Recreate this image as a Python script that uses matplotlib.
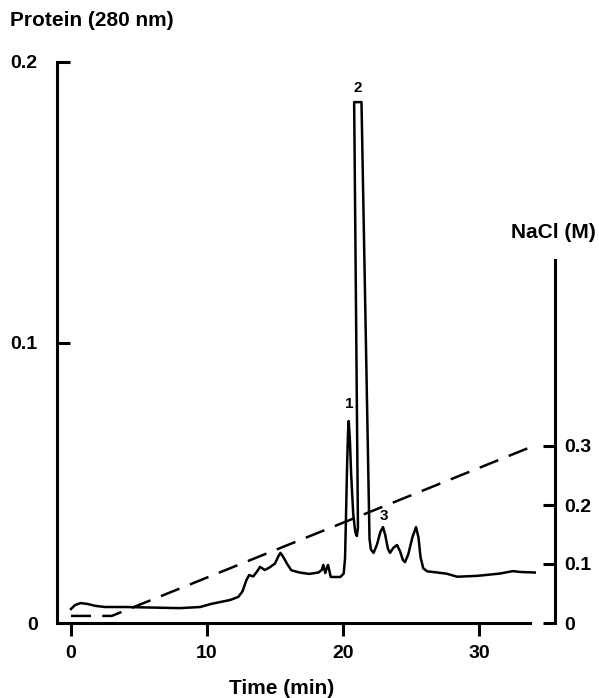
import matplotlib
matplotlib.use("Agg")
import matplotlib.pyplot as plt

plt.rcParams['font.family'] = ['Liberation Sans', 'DejaVu Sans']
plt.rcParams['font.weight'] = 'bold'

# Protein absorbance trace (time in min, A280)
time_min = [0.0, 0.3, 0.7, 1.2, 1.8, 2.5, 4.0, 6.0, 8.0, 9.5, 10.3, 11.0, 11.7, 12.3,
            12.6, 12.9, 13.1, 13.4, 13.7, 13.9, 14.25, 14.6, 15.0, 15.25, 15.4, 15.6,
            15.9, 16.2, 16.8, 17.5, 18.2, 18.45, 18.55, 18.7, 18.8, 18.9, 19.1, 19.8,
            20.05, 20.15, 20.22, 20.3, 20.37, 20.42, 20.5, 20.6, 20.75, 20.9, 21.02,
            21.1, 20.82, 21.36, 21.95, 22.05, 22.25, 22.5, 22.75, 22.94, 23.1, 23.3,
            23.46, 23.7, 23.97, 24.2, 24.4, 24.56, 24.8, 25.1, 25.37, 25.55, 25.7,
            25.9, 26.2, 26.6, 27.6, 28.4, 29.85, 31.5, 32.5, 33.0, 34.1]
protein = [0.0050, 0.0064, 0.0071, 0.0068, 0.0061, 0.0057, 0.0057, 0.0055, 0.0053,
           0.0057, 0.0068, 0.0075, 0.0082, 0.0093, 0.0112, 0.0153, 0.0171, 0.0166,
           0.0185, 0.0200, 0.0189, 0.0198, 0.0212, 0.0238, 0.0250, 0.0236, 0.0210,
           0.0188, 0.0180, 0.0175, 0.0180, 0.0190, 0.0207, 0.0178, 0.0195, 0.0207,
           0.0164, 0.0164, 0.0176, 0.0230, 0.0380, 0.0560, 0.0680, 0.0720, 0.0660,
           0.0530, 0.0390, 0.0325, 0.0310, 0.0340, 0.1857, 0.1857, 0.0300, 0.0262,
           0.0250, 0.0280, 0.0325, 0.0342, 0.0315, 0.0265, 0.0250, 0.0268, 0.0278,
           0.0255, 0.0225, 0.0217, 0.0245, 0.0305, 0.0342, 0.0305, 0.0235, 0.0195,
           0.0184, 0.0182, 0.0176, 0.0165, 0.0168, 0.0176, 0.0185, 0.0182, 0.0180]

# NaCl gradient (time in min, M)
grad_time = [0.0, 3.0, 34.0]
nacl = [0.012, 0.012, 0.30]

peak_labels = ['1', '2', '3']
peak_time = [20.44, 21.1, 23.0]
peak_y = [0.0779, 0.1907, 0.0382]

x_ticks = [0, 10, 20, 30]
left_ticks = [0, 0.1, 0.2]
left_ticklabels = ['0', '0.1', '0.2']
right_ticks = [0, 0.1, 0.2, 0.3]
right_ticklabels = ['0', '0.1', '0.2', '0.3']

W, H = 599, 698
fig = plt.figure(figsize=(W / 100, H / 100), dpi=100)
x0, x1 = 57, 555
y_top, y_bot = 62, 623
ax = fig.add_axes([x0 / W, (H - y_bot) / H, (x1 - x0) / W, (y_bot - y_top) / H])

px_per_min = 13.6
t0_px = 71
ax.set_xlim((x0 - t0_px) / px_per_min, (x1 - t0_px) / px_per_min)
ax.set_ylim(0, 0.2)

ax.plot(time_min, protein, color='black', lw=1.8, solid_joinstyle='round')

for s in ['top', 'right']:
    ax.spines[s].set_visible(False)
ax.spines['left'].set_linewidth(2.2)
ax.spines['bottom'].set_linewidth(2.2)
ax.spines['left'].set_bounds(0, 0.2)
ax.spines['bottom'].set_bounds(0, 33.75)
ax.set_xticks(x_ticks)
ax.set_xticklabels([str(v) for v in x_ticks])
ax.set_yticks(left_ticks)
ax.set_yticklabels(left_ticklabels)
ax.tick_params(axis='y', direction='in', length=9, width=2.2, pad=14, labelsize=14)
ax.tick_params(axis='x', direction='out', length=9, width=2.2, pad=7, labelsize=14)

for lab, t, v in zip(peak_labels, peak_time, peak_y):
    ax.text(t, v, lab, ha='center', va='center', fontsize=11, fontweight='bold')

ax2 = ax.twinx()
ax2.set_ylim(0, (y_bot - y_top) / 590.0)
ax2.plot(grad_time, nacl, color='black', lw=1.8, dashes=(8, 4.5))
for s in ['top', 'left', 'bottom']:
    ax2.spines[s].set_visible(False)
ax2.spines['right'].set_linewidth(2.2)
ax2.spines['right'].set_bounds(0, 0.615)
ax2.set_yticks(right_ticks)
ax2.set_yticklabels(right_ticklabels)
ax2.tick_params(axis='y', direction='in', length=9, width=2.2, pad=7, labelsize=14)

fig.text(10 / W, 1 - 21 / H, 'Protein (280 nm)', ha='left', va='center', fontsize=15, fontweight='bold')
fig.text(553 / W, 1 - 233 / H, 'NaCl (M)', ha='center', va='center', fontsize=15, fontweight='bold')
fig.text(282 / W, 1 - 688 / H, 'Time (min)', ha='center', va='center', fontsize=15, fontweight='bold')

fig.savefig('out.png', dpi=100)
